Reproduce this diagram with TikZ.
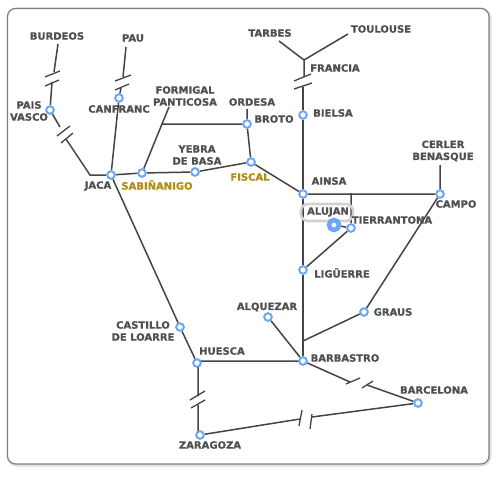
\documentclass[tikz,border=0pt]{standalone}
\usepackage{fontspec}
\setmainfont{DejaVu Sans}
\newfontfamily\lblfont[FakeBold=0.9]{DejaVu Sans Bold}
\usetikzlibrary{backgrounds}
\definecolor{linecol}{HTML}{444444}
\definecolor{txtcol}{HTML}{505050}
\definecolor{goldcol}{HTML}{B08E14}
\definecolor{bluecol}{HTML}{6BA6F7}
\tikzset{
  x=1pt,y=-1pt,
  stn/.style={circle,draw=bluecol,fill=white,line width=2pt,minimum size=7.6pt,inner sep=0pt},
  big/.style={circle,draw=bluecol,fill=white,line width=4.6pt,minimum size=10pt,inner sep=0pt},
  rail/.style={draw=linecol,line width=1.5pt},
  brk/.style={draw=linecol,line width=1.3pt},
  lbl/.style={text=txtcol,font=\fontsize{10}{12}\lblfont,align=center,inner sep=0pt},
  gold/.style={lbl,text=goldcol},
}
\begin{document}
\begin{tikzpicture}
\useasboundingbox (0,0) rectangle (500,476);
\begin{scope}[on background layer]
  \fill[white] (0,0) rectangle (500,476);
  \draw[black!12,line width=3pt,rounded corners=9pt] (8,9) rectangle (490,465);
  \draw[black!50,line width=1.2pt,fill=white,rounded corners=8pt] (7.5,8.5) rectangle (489,464);
\end{scope}
% stations
\node[stn] (vasco) at (50,110) {};
\node[stn] (canfranc) at (119,98) {};
\node[stn] (jaca) at (111,175) {};
\node[stn] (sabi) at (142,173) {};
\node[stn] (yebra) at (195,172) {};
\node[stn] (fiscal) at (251,162) {};
\node[stn] (broto) at (247,124) {};
\node[stn] (bielsa) at (303,115) {};
\node[stn] (ainsa) at (303,194) {};
\node[stn] (campo) at (440,194) {};
\node[stn] (tierra) at (351,228) {};
\node[stn] (liguerre) at (303,270) {};
\node[stn] (alquezar) at (268,317) {};
\node[stn] (graus) at (364,312) {};
\node[stn] (barbastro) at (303,361) {};
\node[stn] (huesca) at (197,363) {};
\node[stn] (castillo) at (180,327) {};
\node[stn] (zaragoza) at (200,435) {};
\node[stn] (barcelona) at (418,403) {};
\node[big] (alujan) at (334,225) {};
% free ends and junctions
\coordinate (burE) at (58,44);
\coordinate (burA) at (54,72);
\coordinate (burB) at (52,82);
\coordinate (vasA) at (60,127);
\coordinate (vasB) at (66,139);
\coordinate (jacK) at (90,175);
\coordinate (pauE) at (126,47);
\coordinate (pauA) at (123,77);
\coordinate (pauB) at (121,88);
\coordinate (forE) at (169,107);
\coordinate (forJ) at (162,124);
\coordinate (ordE) at (247,109);
\coordinate (tarE) at (279,41);
\coordinate (touE) at (348,34);
\coordinate (fraJ) at (304,60);
\coordinate (fraA) at (304,77);
\coordinate (fraB) at (303,87);
\coordinate (cerE) at (440,165);
\coordinate (tieJ) at (351,193);
\coordinate (grJ) at (303,341);
\coordinate (hueR) at (200,361);
\coordinate (barL) at (303,361);
\coordinate (hueA) at (198,396);
\coordinate (hueB) at (198,405);
\coordinate (hueC) at (198,365);
\coordinate (zarT) at (198,433);
\coordinate (zarA) at (300,419);
\coordinate (zarB) at (312,417);
\coordinate (barA) at (350,382);
\coordinate (barB) at (367,385);
\begin{scope}[on background layer]
  \draw[rail] (burE) -- (burA) (burB) -- (vasco) -- (vasA) (vasB) -- (jacK) -- (jaca);
  \draw[rail] (pauE) -- (pauA) (pauB) -- (canfranc) -- (jaca);
  \draw[rail] (jaca) -- (sabi) -- (yebra) -- (fiscal) -- (ainsa);
  \draw[rail] (forE) -- (forJ) -- (sabi) (forJ) -- (broto);
  \draw[rail] (ordE) -- (broto) -- (fiscal);
  \draw[rail] (tarE) -- (fraJ) -- (touE) (fraJ) -- (fraA);
  \draw[rail] (fraB) -- (bielsa) -- (ainsa) -- (liguerre) -- (grJ) -- (barbastro);
  \draw[rail] (ainsa) -- (campo) (cerE) -- (campo) -- (graus) -- (grJ);
  \draw[rail] (tieJ) -- (tierra) -- (liguerre) (alujan) -- (tierra);
  \draw[rail] (alquezar) -- (barbastro);
  \draw[rail] (barL) -- (hueR) (huesca) -- (castillo) -- (jaca);
  \draw[rail] (hueC) -- (hueA) (hueB) -- (zarT) (zaragoza) -- (zarA) (zarB) -- (barcelona) -- (barB) (barA) -- (barbastro);
  % break marks
  \draw[brk] (45,77) -- (60,71) (45,86) -- (59,80);
  \draw[brk] (57,136) -- (70,126) (61,143) -- (73,133);
  \draw[brk] (115,81) -- (131,75) (115,90) -- (129,84);
  \draw[brk] (294,81) -- (311,74) (294,89) -- (312,83);
  \draw[brk] (190,400) -- (205,391) (191,408) -- (205,400);
  \draw[brk] (302,410) -- (299,426) (312,414) -- (310,429);
  \draw[brk] (346,384) -- (360,378) (362,388) -- (373,381);
  \draw[draw=black!18,line width=2.6pt,rounded corners=7pt] (301,204) rectangle (353,221);
\end{scope}
% labels
\node[lbl] (lBur) at (57,36) {BURDEOS};
\node[lbl] (lPau) at (133,38) {PAU};
\node[lbl] (lVas) at (29,111) {PAIS\\VASCO};
\node[lbl] (lFor) at (185,96) {FORMIGAL\\PANTICOSA};
\node[lbl] (lCan) at (119,109) {CANFRANC};
\node[lbl] (lOrd) at (252,102) {ORDESA};
\node[lbl] (lBro) at (274,119) {BROTO};
\node[lbl] (lYeb) at (197,155) {YEBRA\\DE BASA};
\node[lbl] (lJac) at (98,186) {JACA};
\node[gold] (lSab) at (157,185) {SABIÑANIGO};
\node[gold] (lFis) at (250,177) {FISCAL};
\node[lbl] (lTar) at (270,33) {TARBES};
\node[lbl] (lTou) at (381,29) {TOULOUSE};
\node[lbl] (lFra) at (335,68) {FRANCIA};
\node[lbl] (lBie) at (333,113) {BIELSA};
\node[lbl] (lAin) at (329,181) {AINSA};
\node[lbl] (lCer) at (443,151) {CERLER\\BENASQUE};
\node[lbl] (lCam) at (456,204) {CAMPO};
\node[lbl] (lAlu) at (328,212) {ALUJAN};
\node[lbl] (lTie) at (392,220) {TIERRANTONA};
\node[lbl] (lLig) at (342,273) {LIGÜERRE};
\node[lbl] (lAlq) at (267,307) {ALQUEZAR};
\node[lbl] (lGra) at (393,312) {GRAUS};
\node[lbl] (lCas) at (143,331) {CASTILLO\\DE LOARRE};
\node[lbl] (lHue) at (222,351) {HUESCA};
\node[lbl] (lBar) at (345,358) {BARBASTRO};
\node[lbl] (lBcn) at (434,390) {BARCELONA};
\node[lbl] (lZar) at (210,445) {ZARAGOZA};
\end{tikzpicture}
\end{document}
